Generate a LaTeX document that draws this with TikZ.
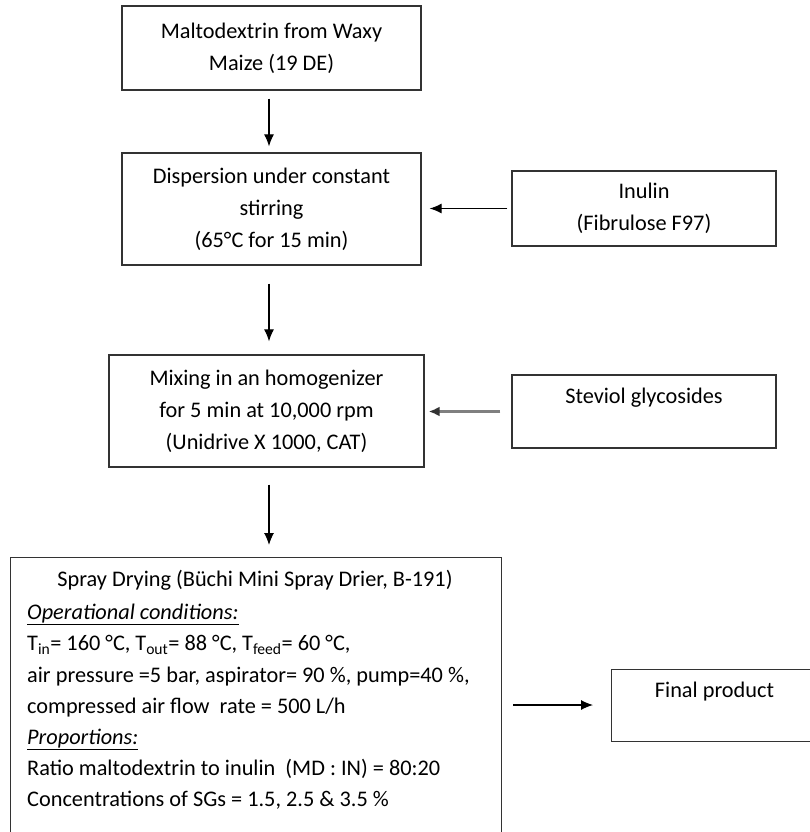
\documentclass[tikz,border=0pt]{standalone}
\usepackage{fontspec}
\setmainfont{Carlito}
\usetikzlibrary{arrows.meta}
\begin{document}
\begin{tikzpicture}[x=1pt,y=-1pt,
  box/.style={draw=black!80,line width=1.3pt,rectangle,inner sep=0pt,align=center,
    font=\fontsize{22.3}{32}\selectfont},
  txt/.style={inner sep=0pt,font=\fontsize{22.3}{31.2}\selectfont},
  arr/.style={-{Latex[length=12pt,width=10pt]},line width=1.1pt,black},
  grayarr/.style={-{Latex[length=11pt,width=10pt,color=black!80]},line width=2.2pt,black!50},
]
\useasboundingbox (0,0) rectangle (810,832);
% nodes
\node[box,minimum width=299,minimum height=84] (malto) at (271.5,48) {Maltodextrin from Waxy\\Maize (19 DE)};
\node[box,minimum width=299,minimum height=112] (disp) at (271.5,209) {Dispersion under constant\\stirring\\(65°C for 15 min)};
\node[box,minimum width=264,minimum height=75] (inulin) at (644,208.5) {Inulin\\(Fibrulose F97)};
\node[box,minimum width=315,minimum height=112] (mix) at (266.5,411) {Mixing in an homogenizer\\for 5 min at 10,000 rpm\\(Unidrive X 1000, CAT)};
\node[box,minimum width=264,minimum height=73] (stev) at (644,411.5) {};
\node[box,minimum width=491,minimum height=300,anchor=north west] (spray) at (10,557) {};
\node[box,minimum width=240,minimum height=72,anchor=north west] (final) at (611,669) {};
% texts
\node[txt,anchor=base] (stevtxt) at (644,403) {Steviol glycosides};
\node[txt,anchor=base] (finaltxt) at (714.5,697) {Final product};
\node[txt,anchor=base] (title) at (255,586) {Spray Drying (Büchi Mini Spray Drier, B-191)};
\node[txt,anchor=north west,align=left] (body) at (27,604) {%
\underline{\textit{Operational conditions:}}\\
T\textsubscript{in}= 160 °C, T\textsubscript{out}= 88 °C, T\textsubscript{feed}= 60 °C,\\
air pressure =5 bar, aspirator= 90 \%, pump=40 \%,\\
compressed air flow\ \ rate = 500 L/h\\
\underline{\textit{Proportions:}}\\
Ratio maltodextrin to inulin\ \ (MD : IN) = 80:20\\
Concentrations of SGs = 1.5, 2.5 \& 3.5 \%};
% connectors
\coordinate (vx) at (269,0);
\coordinate (fy) at (0,705);
\draw[arr,shorten <=8pt,shorten >=6pt] (malto.south -| vx) -- (disp.north -| vx);
\draw[arr,shorten <=18pt,shorten >=13pt] (disp.south -| vx) -- (mix.north -| vx);
\draw[arr,shorten <=17pt,shorten >=12pt] (mix.south -| vx) -- (spray.north -| vx);
\draw[arr,shorten <=4pt,shorten >=8pt] (inulin.west) -- (disp.east |- inulin.west);
\draw[grayarr,shorten <=11pt,shorten >=4pt] (stev.west) -- (mix.east |- stev.west);
\draw[arr,shorten <=11pt,shorten >=18pt] (spray.east |- fy) -- (final.west |- fy);
\end{tikzpicture}
\end{document}
